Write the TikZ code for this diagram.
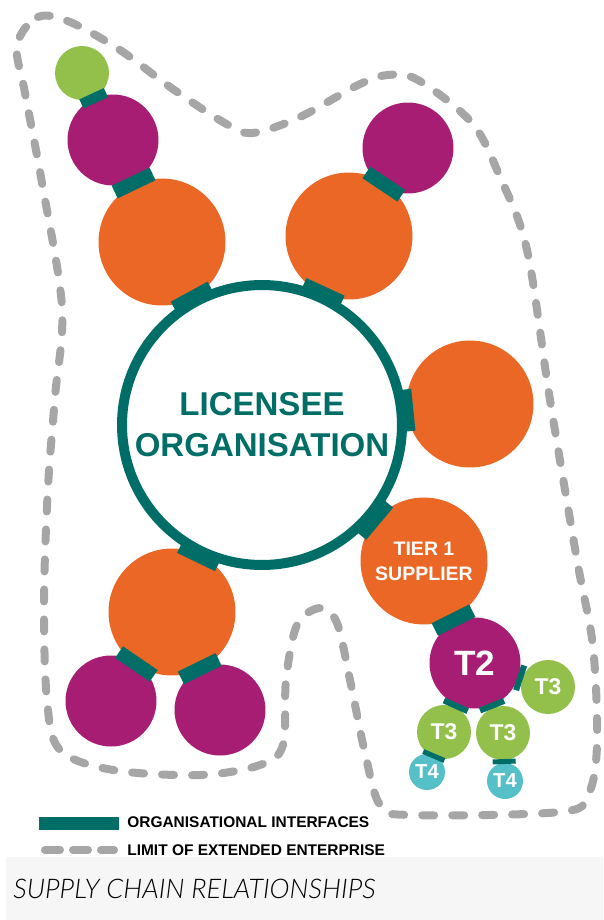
\documentclass[tikz,border=0pt]{standalone}
\usepackage{fontspec}
\setmainfont{Liberation Sans}
\newfontfamily\titlefont{Lato}[ItalicFont=* Light Italic]
\usepackage{xcolor}
\usepackage{tikz}

\definecolor{licteal}{HTML}{006E66}
\definecolor{tierorange}{HTML}{EB6726}
\definecolor{tierpurple}{HTML}{A71D73}
\definecolor{tiergreen}{HTML}{93C04B}
\definecolor{tiercyan}{HTML}{56C0C9}
\definecolor{limitgray}{HTML}{A6A6A6}
\definecolor{bandgray}{HTML}{F6F6F6}

\tikzset{
  tier/.style={circle, inner sep=0pt, text=white, font=\bfseries, align=center},
  tierone/.style={tier, fill=tierorange, minimum size=2.54cm},
  tiertwo/.style={tier, fill=tierpurple, minimum size=1.82cm},
  tierthree/.style={tier, fill=tiergreen, minimum size=1.08cm},
  tierfour/.style={tier, fill=tiercyan, minimum size=0.72cm},
  iface/.style={fill=licteal, inner sep=0pt, sloped},
  ifbig/.style={iface, minimum width=0.28cm, minimum height=0.84cm},
  ifmid/.style={iface, minimum width=0.2cm, minimum height=0.54cm},
  ifsmall/.style={iface, minimum width=0.12cm, minimum height=0.52cm},
  iftiny/.style={iface, minimum width=0.1cm, minimum height=0.46cm},
  limit/.style={limitgray, line width=0.16cm, line cap=round, dash pattern=on 0.24cm off 0.36cm},
  keytext/.style={anchor=west, inner sep=0pt, font=\bfseries\fontsize{8.8}{10}\selectfont},
}

% interface block sitting where two organisations meet
\newcommand{\joint}[4][ifbig]{\path (#2.center) -- (#3.center) node[#1, pos=#4] (#2-#3) {};}

\begin{document}
\begin{tikzpicture}[x=0.02cm, y=-0.02cm]
\useasboundingbox (0,0) rectangle (603,920);

% limit of the extended enterprise
\draw[limit] plot[smooth cycle, tension=0.55] coordinates {
  (17,45) (38,17) (70,22) (120,50) (170,87) (223,122) (252,133) (300,117)
  (358,85) (388,75) (418,80) (472,123) (500,177) (527,250) (550,400)
  (577,560) (593,647) (597,745) (588,795) (560,812) (410,815) (380,805)
  (365,753) (350,680) (337,623) (320,608) (297,625) (286,680) (283,745)
  (260,765) (200,775) (113,770) (60,750) (47,700) (44,600) (48,487)
  (55,397) (62,307) (42,183) (25,93)};

% licensee and its tiers
\node[circle, draw=licteal, fill=white, line width=0.2cm, minimum size=5.6cm,
      text=licteal, font=\bfseries\fontsize{18.8}{23.3}\selectfont, align=center]
      (lic) at (262,425) {LICENSEE\\ORGANISATION};

\node[tierone] (o1) at (162,242) {};
\node[tierone] (o2) at (349,236) {};
\node[tierone] (o3) at (470,404) {};
\node[tierone, font=\bfseries\fontsize{11.1}{14.2}\selectfont] (t1) at (424,561) {TIER 1\\SUPPLIER};
\node[tierone] (o5) at (172,612) {};

\node[tiertwo] (p1) at (113,140) {};
\node[tiertwo] (p2) at (408,148) {};
\node[tiertwo] (p3) at (111,701) {};
\node[tiertwo] (p4) at (220,710) {};
\node[tiertwo, font=\bfseries\fontsize{20}{24}\selectfont] (t2) at (475,663) {T2};

\node[tierthree] (g1) at (82,73) {};
\node[tierthree, font=\bfseries\fontsize{13}{15}\selectfont] (t3a) at (548,687) {T3};
\node[tierthree, font=\bfseries\fontsize{13}{15}\selectfont] (t3b) at (444,732) {T3};
\node[tierthree, font=\bfseries\fontsize{13}{15}\selectfont] (t3c) at (503,733) {T3};

\node[tierfour, font=\bfseries\fontsize{11.5}{13}\selectfont] (t4a) at (427,772) {T4};
\node[tierfour, font=\bfseries\fontsize{11.5}{13}\selectfont] (t4b) at (505,781) {T4};

% organisational interfaces
\joint{lic}{o1}{0.695}
\joint{lic}{o2}{0.697}
\joint{lic}{o3}{0.694}
\joint{lic}{t1}{0.693}
\joint{lic}{o5}{0.699}
\joint{o1}{p1}{0.579}
\joint[ifmid]{p1}{g1}{0.623}
\joint{o2}{p2}{0.59}
\joint{o5}{p3}{0.584}
\joint{o5}{p4}{0.578}
\joint{t1}{t2}{0.579}
\joint[ifsmall]{t2}{t3a}{0.618}
\joint[ifsmall]{t2}{t3b}{0.62}
\joint[ifsmall]{t2}{t3c}{0.61}
\joint[iftiny]{t3b}{t4a}{0.6}
\joint[iftiny]{t3c}{t4b}{0.594}

% legend
\node[fill=licteal, minimum width=1.6cm, minimum height=0.26cm, inner sep=0pt] (keyif) at (79,823.5) {};
\node[keytext] (keyiftext) at (127,822) {ORGANISATIONAL INTERFACES};
\coordinate (keylima) at (45,850);
\coordinate (keylimb) at (114,850);
\draw[limit, dash pattern=on 0.3cm off 0.26cm] (keylima) -- (keylimb);
\node[keytext] (keylimtext) at (127,850) {LIMIT OF EXTENDED ENTERPRISE};

% caption band
\fill[bandgray] (6,857) rectangle (603,920);
\node[anchor=west, inner sep=0pt, font=\titlefont\itshape\fontsize{15.4}{18}\selectfont] (title) at (13,889) {SUPPLY CHAIN RELATIONSHIPS};
\end{tikzpicture}
\end{document}
